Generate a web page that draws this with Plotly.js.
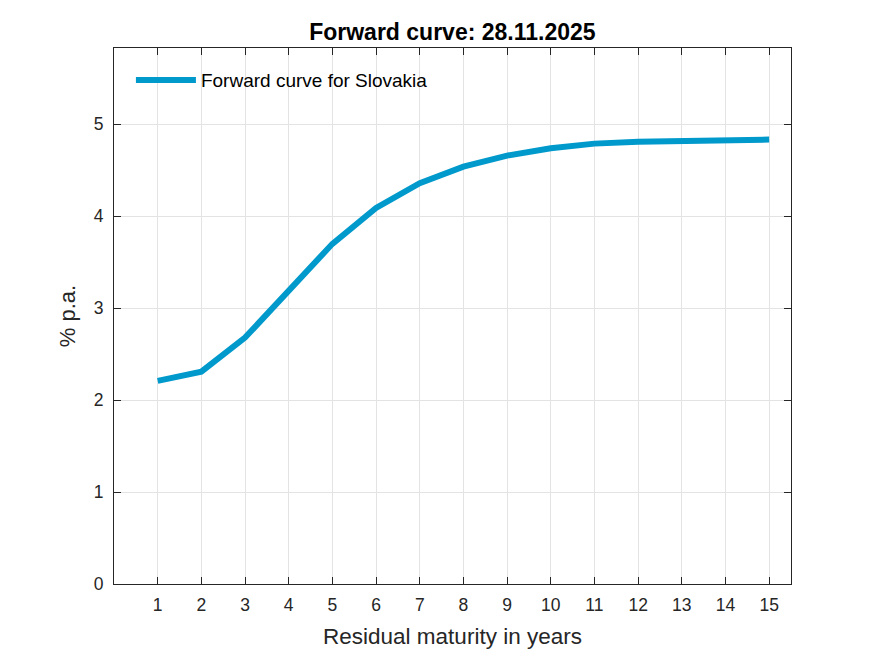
<!DOCTYPE html>
<html>
<head>
<meta charset="utf-8">
<script src="https://cdn.plot.ly/plotly-3.0.1.min.js"></script>
<style>
  html, body { margin: 0; padding: 0; background: #fff; }
  #chart { width: 875px; height: 656px; }
</style>
</head>
<body>
<div id="chart"></div>
<script>
// ─── Data ───
const maturities = [1, 2, 3, 4, 5, 6, 7, 8, 9, 10, 11, 12, 13, 14, 15];
const forwardRates = [2.21, 2.31, 2.68, 3.19, 3.70, 4.09, 4.36, 4.54, 4.66, 4.74, 4.79, 4.81, 4.823, 4.83, 4.834];
const yTicks = [0, 1, 2, 3, 4, 5];
const seriesName = "Forward curve for Slovakia";
const chartTitle = "Forward curve: 28.11.2025";

const axisColor = "#262626";
const gridColor = "#e3e3e3";
const font = "Liberation Sans, Arial, sans-serif";

const axisBase = {
  showline: true,
  linecolor: axisColor,
  linewidth: 1,
  mirror: "ticks",
  ticks: "inside",
  ticklen: 7,
  tickcolor: axisColor,
  showgrid: true,
  gridcolor: gridColor,
  zeroline: false,
  tickfont: { family: font, size: 17.5, color: axisColor },
};

const trace = {
  x: maturities,
  y: forwardRates,
  mode: "lines",
  type: "scatter",
  name: seriesName,
  line: { color: "#0099cc", width: 6 },
};

const layout = {
  width: 875,
  height: 656,
  paper_bgcolor: "#fff",
  plot_bgcolor: "#fff",
  margin: { l: 114, r: 84, t: 48, b: 72 },
  title: {
    text: "<b>" + chartTitle + "</b>",
    font: { family: font, size: 23, color: "#000" },
    x: 0.517,
    xanchor: "center",
    y: 0.951,
    yanchor: "middle",
  },
  xaxis: Object.assign({}, axisBase, {
    range: [0, 15.5],
    tickvals: maturities,
    ticklabelstandoff: 5,
    title: { text: "Residual maturity in years", font: { family: font, size: 22.5, color: axisColor }, standoff: 14 },
  }),
  yaxis: Object.assign({}, axisBase, {
    range: [0, 5.83],
    tickvals: yTicks,
    ticklabelstandoff: 6,
    title: { text: "% p.a.", font: { family: font, size: 22, color: axisColor }, standoff: 12 },
  }),
  showlegend: true,
  legend: {
    x: 0.025,
    y: 0.94,
    xanchor: "left",
    yanchor: "middle",
    bgcolor: "rgba(0,0,0,0)",
    font: { family: font, size: 19, color: "#000" },
    itemwidth: 60,
  },
};

Plotly.newPlot("chart", [trace], layout, { displayModeBar: false, responsive: false });
</script>
</body>
</html>
